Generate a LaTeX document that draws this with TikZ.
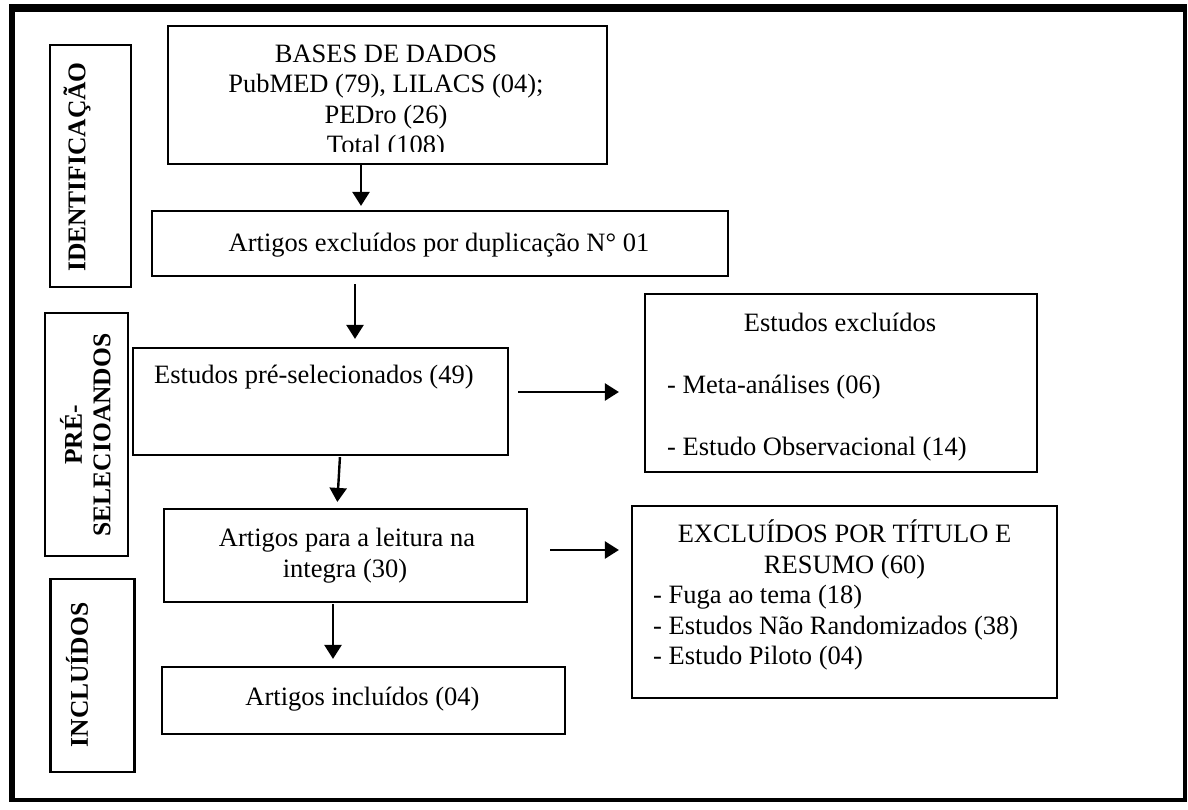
\documentclass[tikz,border=0pt]{standalone}
\usepackage{fontspec}
\setmainfont{Liberation Serif}
\usetikzlibrary{arrows.meta}
\begin{document}
\begin{tikzpicture}[x=1pt,y=-1pt,
  boxst/.style={draw, line width=2.2pt, rectangle, inner sep=0pt},
  txt/.style={inner sep=0pt, anchor=base, font=\fontsize{26.5pt}{30.5pt}\selectfont},
  txtl/.style={txt, anchor=base west},
  lab/.style={inner sep=0pt, anchor=center, rotate=90, font=\bfseries\fontsize{25.5pt}{29pt}\selectfont},
  arr/.style={line width=2.4pt, -{Triangle[length=14pt,width=17pt]}}]
\useasboundingbox (0,0) rectangle (1188,809);
\fill[white] (0,0) rectangle (1188,809);
% outer frame
\fill[black] (9,4) rectangle (1187,12);
\fill[black] (9,4) rectangle (15,802);
\fill[black] (1183,4) rectangle (1187,802);
\fill[black] (9,798) rectangle (1187,802);
% side labels
\node[boxst, minimum width=81pt, minimum height=242pt] (lid) at (90.5,166) {};
\node[lab] (lidt) at (77,167) {IDENTIFICAÇÃO};
\node[boxst, minimum width=83pt, minimum height=243pt] (lpre) at (86.5,434.5) {};
\node[lab] (lpret1) at (71,435) {PRÉ-};
\node[lab] (lpret2) at (102,435) {SELECIOANDOS};
\node[boxst, minimum width=84pt, minimum height=193pt] (linc) at (92.5,675.5) {};
\node[lab] (linct) at (77,675) {INCLUÍDOS};
% main boxes
\node[boxst, minimum width=439pt, minimum height=138pt] (bases) at (387.5,95) {};
\begin{scope}
\clip (170,28) rectangle (605,151);
\node[txt] (b1) at (386,62) {BASES DE DADOS};
\node[txt] (b2) at (386,92.5) {PubMED (79), LILACS (04);};
\node[txt] (b3) at (386,123) {PEDro (26)};
\node[txt] (b4) at (386,153.5) {Total (108)};
\end{scope}
\node[boxst, minimum width=576pt, minimum height=65pt] (dup) at (440,243.5) {};
\node[txt] (dupt) at (439,251) {Artigos excluídos por duplicação N° 01};
\node[boxst, minimum width=375pt, minimum height=107pt] (pre) at (320.5,401.5) {};
\node[txtl] (pret) at (154,383) {Estudos pré-selecionados (49)};
\node[boxst, minimum width=363pt, minimum height=93pt] (leit) at (345.5,555.5) {};
\node[txt] (leit1) at (347,546) {Artigos para a leitura na};
\node[txt] (leit2) at (345,577) {integra (30)};
\node[boxst, minimum width=403pt, minimum height=67pt] (inc) at (363.5,700.5) {};
\node[txt] (inct) at (362.5,705) {Artigos incluídos (04)};
\node[boxst, minimum width=392pt, minimum height=178pt] (exc1) at (841,383) {};
\node[txt] (exc1a) at (840,331) {Estudos excluídos};
\node[txtl] (exc1b) at (667,393) {- Meta-análises (06)};
\node[txtl] (exc1c) at (667,455) {- Estudo Observacional (14)};
\node[boxst, minimum width=425pt, minimum height=192pt] (exc2) at (844.5,602) {};
\node[txt] (exc2a) at (844.5,542) {EXCLUÍDOS POR TÍTULO E};
\node[txt] (exc2b) at (844.5,573) {RESUMO (60)};
\node[txtl] (exc2c) at (653,603) {- Fuga ao tema (18)};
\node[txtl] (exc2d) at (653,634) {- Estudos Não Randomizados (38)};
\node[txtl] (exc2e) at (653,664) {- Estudo Piloto (04)};
% arrows
\draw[arr, shorten >=4pt] ([xshift=-26.5pt]bases.south) -- ([xshift=-79pt]dup.north);
\draw[arr, shorten <=7pt, shorten >=8pt] ([xshift=-85pt]dup.south) -- ([xshift=34.5pt]pre.north);
\draw[arr, shorten <=1pt, shorten >=6pt] ([xshift=19.5pt]pre.south) -- ([xshift=-8.5pt]leit.north);
\draw[arr, shorten <=1pt, shorten >=7pt] ([xshift=-12.5pt]leit.south) -- ([xshift=-30.5pt]inc.north);
\draw[arr, shorten <=9pt, shorten >=25pt] ([yshift=9.5pt]pre.east) -- ([yshift=-9pt]exc1.west);
\draw[arr, shorten <=22pt, shorten >=12pt] ([yshift=5.5pt]leit.east) -- ([yshift=52pt]exc2.west);
\end{tikzpicture}
\end{document}
